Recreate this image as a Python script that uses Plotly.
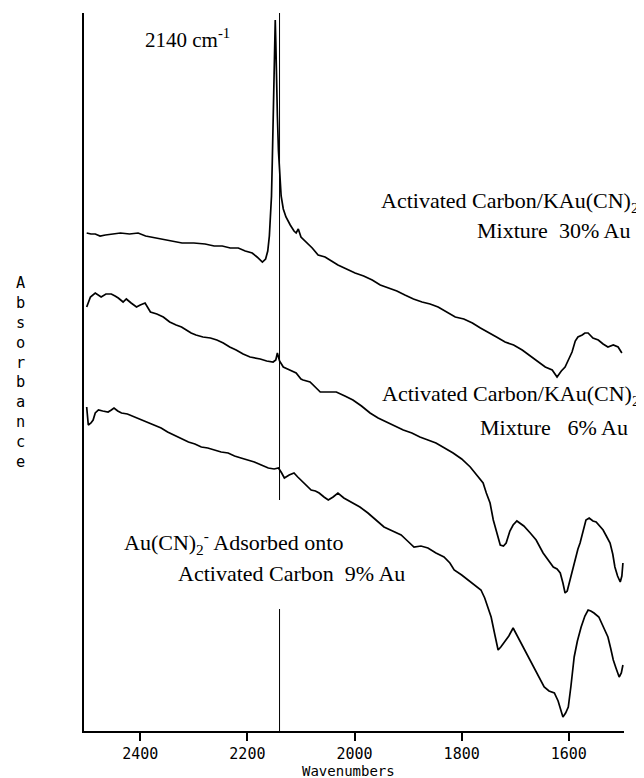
import plotly.graph_objects as go

# ---- data (wavenumber in cm^-1, absorbance in arbitrary units, traces offset) ----
wn_30 = [2500, 2492, 2484, 2475, 2465, 2452, 2437, 2420, 2404, 2390, 2372, 2355, 2340, 2322, 2300,
         2279, 2262, 2247, 2232, 2217, 2204, 2191, 2182, 2172, 2166, 2162, 2159, 2157, 2155, 2153.5,
         2152, 2150.5, 2149, 2148, 2147, 2146, 2144, 2142, 2140, 2137, 2133, 2128, 2120, 2113, 2109,
         2105, 2100, 2094, 2088, 2079, 2068, 2055, 2043, 2031, 2015, 1999, 1983, 1967, 1952, 1937,
         1921, 1906, 1890, 1874, 1859, 1844, 1828, 1812, 1796, 1780, 1765, 1751, 1735, 1719, 1703,
         1687, 1672, 1657, 1644, 1631, 1622, 1614, 1607, 1600, 1594, 1588, 1583, 1575, 1570, 1564,
         1555, 1545, 1536, 1527, 1517, 1508, 1501]
abs_30 = [498, 497, 497, 495, 496, 497, 498, 497, 498, 495, 493, 491, 490, 488, 488,
          487, 485, 485, 483, 483, 480, 478, 474, 469, 472, 480, 495, 510, 535, 570,
          610, 660, 700, 711, 690, 655, 615, 580, 555, 535, 522, 514, 506, 500, 498,
          502, 494, 491, 487, 483, 476, 474, 470, 466, 462, 458, 455, 451, 446, 443,
          440, 436, 432, 429, 427, 424, 419, 414, 412, 408, 403, 399, 394, 389, 386,
          381, 375, 369, 364, 361, 354, 360, 364, 372, 379, 390, 394, 396, 398, 398,
          393, 391, 387, 384, 386, 384, 378]

wn_6 = [2500, 2493, 2484, 2478, 2473, 2464, 2454, 2447, 2441, 2432, 2426, 2417, 2407, 2400, 2391,
        2381, 2369, 2357, 2345, 2333, 2323, 2314, 2305, 2296, 2283, 2269, 2257, 2245, 2233, 2221,
        2208, 2195, 2185, 2176, 2164, 2152, 2147, 2144, 2140, 2133, 2121, 2109, 2100, 2096, 2083,
        2072, 2064, 2049, 2034, 2018, 2003, 1987, 1971, 1956, 1941, 1925, 1909, 1893, 1878, 1863,
        1848, 1832, 1816, 1800, 1784, 1772, 1760, 1754, 1747, 1741, 1734, 1728, 1722, 1717, 1710,
        1704, 1697, 1691, 1684, 1672, 1661, 1648, 1640, 1629, 1622, 1616, 1611, 1607, 1603, 1598,
        1593, 1588, 1583, 1579, 1573, 1568, 1562, 1555, 1549, 1542, 1536, 1530, 1523, 1518, 1514,
        1509, 1504, 1501, 1499]
abs_6 = [424, 434, 438, 436, 434, 437, 437, 435, 433, 429, 432, 428, 424, 426, 428,
         419, 417, 414, 409, 406, 404, 401, 398, 396, 394, 393, 391, 388, 384, 381,
         377, 374, 373, 372, 370, 369, 371, 378, 370, 364, 361, 358, 352, 351, 349,
         343, 339, 339, 339, 335, 331, 325, 318, 313, 309, 305, 301, 298, 294, 291,
         288, 283, 278, 272, 264, 256, 248, 238, 228, 211, 196, 186, 185, 188, 200,
         206, 210, 208, 205, 198, 191, 178, 172, 164, 162, 158, 148, 138, 140, 151,
         162, 171, 182, 188, 200, 211, 213, 210, 209, 205, 201, 195, 188, 177, 164,
         155, 149, 155, 168]

wn_9 = [2500, 2497, 2492, 2488, 2484, 2478, 2470, 2460, 2454, 2449, 2442, 2435, 2424, 2411, 2398,
        2385, 2373, 2361, 2349, 2337, 2323, 2310, 2298, 2286, 2274, 2262, 2249, 2236, 2224, 2212,
        2200, 2187, 2174, 2161, 2150, 2142, 2136, 2131, 2122, 2113, 2106, 2100, 2090, 2081, 2073,
        2066, 2057, 2049, 2040, 2031, 2020, 2006, 1990, 1975, 1960, 1945, 1929, 1913, 1901, 1889,
        1876, 1863, 1848, 1833, 1822, 1814, 1800, 1788, 1776, 1764, 1757, 1751, 1745, 1738, 1732,
        1727, 1721, 1712, 1704, 1699, 1695, 1689, 1683, 1674, 1665, 1655, 1646, 1637, 1627, 1620,
        1614, 1611, 1606, 1601, 1596, 1590, 1584, 1577, 1570, 1564, 1559, 1553, 1544, 1536, 1527,
        1522, 1517, 1512, 1506, 1502, 1499]
abs_9 = [324, 306, 308, 311, 318, 321, 320, 319, 321, 323, 320, 318, 317, 314, 311,
         308, 305, 303, 299, 296, 292, 289, 287, 284, 283, 281, 279, 278, 275, 273,
         271, 269, 266, 263, 262, 263, 258, 253, 256, 258, 254, 251, 246, 241, 240,
         238, 234, 231, 234, 238, 233, 229, 224, 218, 211, 204, 200, 196, 190, 184,
         185, 183, 178, 174, 168, 161, 156, 151, 146, 141, 133, 124, 114, 96, 81,
         84, 88, 95, 103, 98, 94, 88, 81, 72, 64, 54, 44, 40, 38, 30,
         18, 14, 18, 24, 45, 74, 90, 104, 115, 121, 120, 118, 114, 105, 94,
         83, 71, 63, 54, 58, 66]

tick_vals = [2400, 2200, 2000, 1800, 1600]
tick_text = ["2400", "2200", "2000", "1800", "1600"]
marker_wn = 2140
y_label = "Absorbance"
x_label = "Wavenumbers"

# ---- figure (page has an 8px body margin, so the figure is 8px smaller) ----
OFF = 8
W, H = 644 - OFF, 778 - OFF
P_LEFT, P_RIGHT, P_TOP, P_BOTTOM = 84, 624, 13, 731   # plot area in page pixels
ML, MT = P_LEFT - OFF, P_TOP - OFF
MR, MB = W - (P_RIGHT - OFF), H - (P_BOTTOM - OFF)
PW, PH = P_RIGHT - P_LEFT, P_BOTTOM - P_TOP

def px(x):
    return (x - P_LEFT) / PW

def py(y):
    return (P_BOTTOM - y) / PH

fig = go.Figure()
for wn, ab in [(wn_30, abs_30), (wn_6, abs_6), (wn_9, abs_9)]:
    fig.add_trace(go.Scatter(x=wn, y=ab, mode="lines",
                             line=dict(color="black", width=1.7),
                             showlegend=False, hoverinfo="skip"))

# vertical reference line at 2140 cm-1 (broken around the lower label)
for y0, y1 in [(py(500), 1.0), (0.0, py(609))]:
    fig.add_shape(type="line", xref="x", yref="paper", x0=marker_wn, x1=marker_wn,
                  y0=y0, y1=y1, line=dict(color="black", width=1))

serif = dict(family="Liberation Serif", size=22, color="black")
nb = "\u00a0"
ann = [
    ("2140 cm<sup>-1</sup>", 143, 38, "left", 21),
    ("Activated Carbon/KAu(CN)<sub>2</sub>", 641, 202, "right", 22),
    ("Mixture" + nb * 2 + "30% Au", 632, 230, "right", 22),
    ("Activated Carbon/KAu(CN)<sub>2</sub>", 642, 395, "right", 22),
    ("Mixture" + nb * 3 + "6% Au", 630, 428, "right", 22),
    ("Au(CN)<sub>2</sub><sup>-</sup> Adsorbed onto", 122, 542, "left", 22),
    ("Activated Carbon" + nb * 2 + "9% Au", 176, 573, "left", 22),
]
for text, x, y, anchor, size in ann:
    fig.add_annotation(text=text, x=px(x), y=py(y), xref="paper", yref="paper",
                       xanchor=anchor, yanchor="middle", showarrow=False,
                       font=dict(family="Liberation Serif", size=size, color="black"))

mono = "DejaVu Sans Mono"
fig.add_annotation(text="<br>".join(list(y_label)), x=px(20), y=py(372.5),
                   xref="paper", yref="paper", xanchor="center", yanchor="middle",
                   showarrow=False, align="center",
                   font=dict(family=mono, size=15.3, color="black"))

fig.add_annotation(text=x_label, x=px(348), y=py(771), xref="paper", yref="paper",
                   xanchor="center", yanchor="middle", showarrow=False,
                   font=dict(family=mono, size=14, color="black"))

fig.update_layout(
    width=W, height=H, autosize=False,
    margin=dict(l=ML, r=MR, t=MT, b=MB),
    paper_bgcolor="white", plot_bgcolor="white",
    xaxis=dict(range=[2505, 1497], tickvals=tick_vals, ticktext=tick_text,
               ticks="outside", ticklen=8, tickwidth=1.5, tickcolor="black",
               showline=True, linecolor="black", linewidth=1.5,
               showgrid=False, zeroline=False,
               tickfont=dict(family=mono, size=15, color="black")),
    yaxis=dict(range=[0, 718], showticklabels=False, ticks="",
               showline=True, linecolor="black", linewidth=1.5,
               showgrid=False, zeroline=False),
)

fig.write_html("out.html")
